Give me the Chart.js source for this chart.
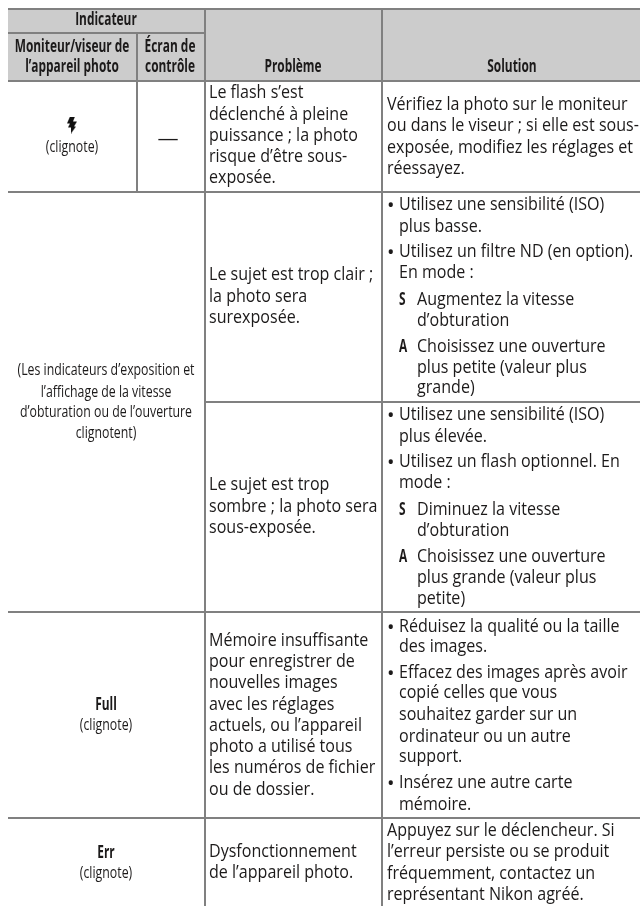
<!DOCTYPE html>
<html lang="fr">
<head>
<meta charset="utf-8">
<title>Indicateur</title>
<style>
  html, body { margin: 0; padding: 0; background: #fff; }
  canvas { display: block; }
</style>
<script src="https://cdn.jsdelivr.net/npm/chart.js@4/dist/chart.umd.min.js"></script>
</head>
<body>
<canvas id="table-chart" width="640" height="906"></canvas>
<script>
// table grid, in page units
const columnEdges = [8, 137, 205, 382, 640];
const rowEdges = [9, 33, 81, 192, 402, 612, 818, 906];

// [row index, first column edge, last column edge]
const horizontalRules = [
  [0, 0, 4], [1, 0, 2], [2, 0, 4], [3, 0, 4], [4, 2, 4], [5, 0, 4], [6, 0, 4],
];
// [column index, first row edge, last row edge]
const verticalRules = [
  [1, 1, 3], [2, 0, 7], [3, 0, 7],
];

const headerTexts = ["Indicateur", "Moniteur/viseur de", "l’appareil photo", "Écran de", "contrôle", "Problème", "Solution"];
const headerX = [106, 72, 72, 170, 170, 293, 512];
const headerY = [25, 52, 72, 52, 72, 72, 72];

const indicatorBold = ["Full", "Err"];
const indicatorBoldY = [710, 858];
const indicatorNotes = [
  "(clignote)",
  "(Les indicateurs d’exposition et", "l’affichage de la vitesse", "d’obturation ou de l’ouverture", "clignotent)",
  "(clignote)", "(clignote)",
];
const indicatorNotesX = [72, 106, 106, 106, 106, 106, 106];
const indicatorNotesY = [152, 375, 397, 417, 438, 730, 878];

const problemLines = [
  "Le flash s’est", "déclenché à pleine", "puissance ; la photo", "risque d’être sous-", "exposée.",
  "Le sujet est trop clair ;", "la photo sera", "surexposée.",
  "Le sujet est trop", "sombre ; la photo sera", "sous-exposée.",
  "Mémoire insuffisante", "pour enregistrer de", "nouvelles images", "avec les réglages", "actuels, ou l’appareil", "photo a utilisé tous", "les numéros de fichier", "ou de dossier.",
  "Dysfonctionnement", "de l’appareil photo.",
];
const problemY = [
  98, 120, 141, 162, 183,
  280, 302, 323,
  490, 512, 533,
  646, 667, 688, 710, 731, 752, 773, 795,
  857, 878,
];

const solutionPlain = [
  "Vérifiez la photo sur le moniteur", "ou dans le viseur ; si elle est sous-", "exposée, modifiez les réglages et", "réessayez.",
  "Appuyez sur le déclencheur. Si", "l’erreur persiste ou se produit", "fréquemment, contactez un", "représentant Nikon agréé.",
];
const solutionPlainY = [110, 131, 153, 174, 836, 857, 879, 900];

const solutionBullets = [
  "Utilisez une sensibilité (ISO)", "Utilisez un filtre ND (en option).",
  "Utilisez une sensibilité (ISO)", "Utilisez un flash optionnel. En",
  "Réduisez la qualité ou la taille", "Effacez des images après avoir", "Insérez une autre carte",
];
const solutionBulletsY = [210, 257, 420, 467, 632, 678, 788];

const solutionContinued = [
  "plus basse.", "En mode :", "plus élevée.", "mode :",
  "des images.", "copié celles que vous", "souhaitez garder sur un", "ordinateur ou un autre", "support.", "mémoire.",
];
const solutionContinuedY = [232, 278, 442, 488, 652, 698, 720, 742, 762, 810];

const modeKeys = ["S", "A", "S", "A"];
const modeKeysY = [305, 352, 515, 562];
const modeLines = [
  "Augmentez la vitesse", "d’obturation", "Choisissez une ouverture", "plus petite (valeur plus", "grande)",
  "Diminuez la vitesse", "d’obturation", "Choisissez une ouverture", "plus grande (valeur plus", "petite)",
];
const modeLinesY = [305, 326, 352, 373, 393, 515, 536, 562, 583, 604];

const lineColor = "#808080";
const headerFill = "#cccccc";
const inkColor = "#1c1a1a";
const bodyFont = "17.5px 'Open Sans'";
const bodyStretch = 0.918;
const narrowFont = "16px 'Open Sans'";
const narrowStretch = 0.77;
const boldFont = "bold 17px 'Open Sans'";
const boldStretch = 0.7;
const bulletFont = "20px 'Open Sans'";
const dashFont = "18px 'Open Sans'";

function flashSymbol() {
  // little bolt used in place of the camera's flash icon
  const c = document.createElement("canvas");
  c.width = 12;
  c.height = 17;
  const g = c.getContext("2d");
  g.fillStyle = "#111";
  g.beginPath();
  g.moveTo(4, 0);
  g.lineTo(9, 0);
  g.lineTo(7, 5);
  g.lineTo(11, 5);
  g.lineTo(8, 10);
  g.lineTo(10, 10);
  g.lineTo(5, 17);
  g.lineTo(5, 11);
  g.lineTo(2, 11);
  g.lineTo(4, 7);
  g.lineTo(1, 7);
  g.closePath();
  g.fill();
  return c;
}

function putText(chart, text, x, y, font, stretch, align) {
  const ctx = chart.ctx;
  ctx.save();
  ctx.font = font;
  ctx.fillStyle = inkColor;
  ctx.textBaseline = "alphabetic";
  ctx.textAlign = align;
  ctx.translate(chart.scales.x.getPixelForValue(x), chart.scales.y.getPixelForValue(y));
  ctx.scale(stretch, 1);
  ctx.fillText(text, 0, 0);
  ctx.restore();
}

const tableText = {
  id: "tableText",
  afterDatasetsDraw(chart) {
    headerTexts.forEach((t, i) => putText(chart, t, headerX[i], headerY[i], boldFont, boldStretch, "center"));
    indicatorBold.forEach((t, i) => putText(chart, t, 106, indicatorBoldY[i], boldFont, boldStretch, "center"));
    indicatorNotes.forEach((t, i) => putText(chart, t, indicatorNotesX[i], indicatorNotesY[i], narrowFont, narrowStretch, "center"));
    putText(chart, "—", 168, 145, dashFont, 1.17, "center");
    problemLines.forEach((t, i) => putText(chart, t, 209, problemY[i], bodyFont, bodyStretch, "left"));
    solutionPlain.forEach((t, i) => putText(chart, t, 387, solutionPlainY[i], bodyFont, bodyStretch, "left"));
    solutionBullets.forEach((t, i) => {
      putText(chart, "•", 387, solutionBulletsY[i] + 2, bulletFont, 1, "left");
      putText(chart, t, 399, solutionBulletsY[i], bodyFont, bodyStretch, "left");
    });
    solutionContinued.forEach((t, i) => putText(chart, t, 399, solutionContinuedY[i], bodyFont, bodyStretch, "left"));
    modeKeys.forEach((t, i) => putText(chart, t, 399, modeKeysY[i], boldFont, boldStretch, "left"));
    modeLines.forEach((t, i) => putText(chart, t, 417, modeLinesY[i], bodyFont, bodyStretch, "left"));
  },
};

function ruleDataset(points) {
  return {
    type: "scatter",
    data: points,
    showLine: true,
    borderColor: lineColor,
    borderWidth: 2,
    pointRadius: 0,
    fill: false,
    order: 1,
  };
}

function main() {
  const datasets = [];

  // grey header band
  datasets.push({
    type: "scatter",
    data: [
      { x: columnEdges[0], y: rowEdges[0] },
      { x: columnEdges[4], y: rowEdges[0] },
      { x: columnEdges[4], y: rowEdges[2] },
      { x: columnEdges[0], y: rowEdges[2] },
    ],
    showLine: true,
    borderWidth: 0,
    pointRadius: 0,
    backgroundColor: headerFill,
    fill: "shape",
    order: 3,
  });

  horizontalRules.forEach(([r, a, b]) => {
    datasets.push(ruleDataset([
      { x: columnEdges[a], y: rowEdges[r] },
      { x: columnEdges[b], y: rowEdges[r] },
    ]));
  });
  verticalRules.forEach(([c, a, b]) => {
    datasets.push(ruleDataset([
      { x: columnEdges[c], y: rowEdges[a] },
      { x: columnEdges[c], y: rowEdges[b] },
    ]));
  });

  // flash icon
  datasets.push({
    type: "scatter",
    data: [{ x: 72, y: 125 }],
    pointStyle: flashSymbol(),
    order: 0,
  });

  new Chart(document.getElementById("table-chart"), {
    type: "scatter",
    data: { datasets: datasets },
    plugins: [tableText],
    options: {
      responsive: false,
      animation: false,
      layout: { padding: 0, autoPadding: false },
      plugins: {
        legend: { display: false },
        tooltip: { enabled: false },
      },
      scales: {
        x: { type: "linear", min: 0, max: 640, display: false },
        y: { type: "linear", min: 0, max: 906, reverse: true, display: false },
      },
    },
  });
}

document.addEventListener("DOMContentLoaded", main);
</script>
</body>
</html>
